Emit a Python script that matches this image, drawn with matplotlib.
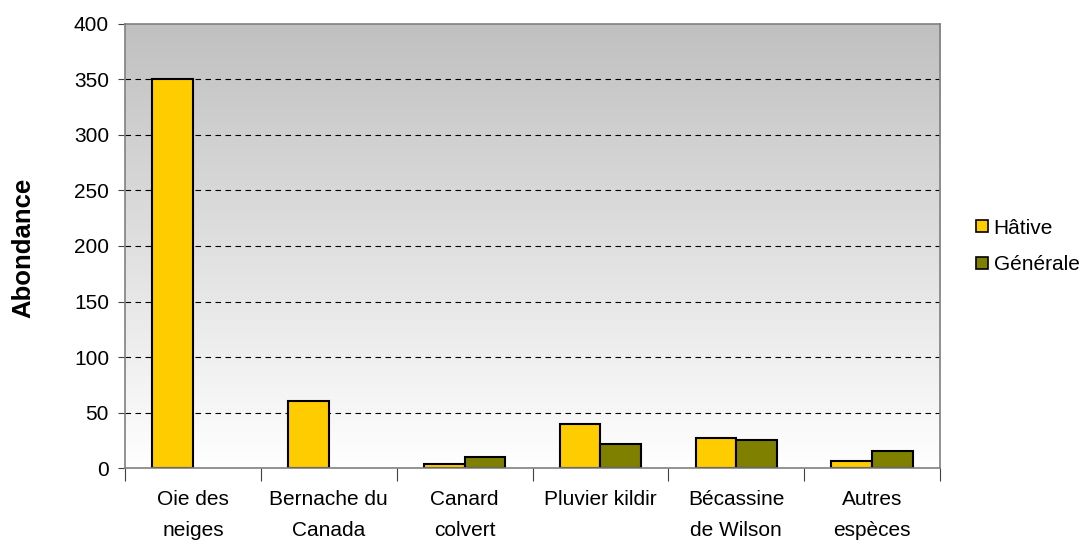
import numpy as np
import matplotlib
matplotlib.use("Agg")
import matplotlib.pyplot as plt
from matplotlib.lines import Line2D

plt.rcParams['font.family'] = ['Liberation Sans', 'DejaVu Sans']

categories = ["Oie des\nneiges", "Bernache du\nCanada", "Canard\ncolvert",
              "Pluvier kildir", "Bécassine\nde Wilson", "Autres\nespèces"]
hative = [350, 60, 4, 40, 27, 6]
generale = [0, 0, 10, 22, 25, 15]
series_names = ["Hâtive", "Générale"]
colors = ["#FFCC00", "#808000"]

fig = plt.figure(figsize=(10.83, 5.40), dpi=100)
ax = fig.add_axes([0.1154, 0.1333, 0.7526, 0.8223])

x = np.arange(len(categories))
w = 0.3
for off, vals, c in [(-w / 2, hative, colors[0]), (w / 2, generale, colors[1])]:
    bars = ax.bar(x + off, vals, w, color=c, edgecolor="black", linewidth=1.5, zorder=3)
    for b, v in zip(bars, vals):
        if v == 0:
            b.set_visible(False)

ax.set_xlim(-0.5, len(categories) - 0.5)
ax.set_ylim(0, 400)

# gradient background (grey at top -> white at bottom)
grad = np.linspace(1.0, 0.0, 256).reshape(-1, 1)
ax.imshow(grad, extent=[-0.5, len(categories) - 0.5, 0, 400], aspect="auto",
          cmap=matplotlib.colors.LinearSegmentedColormap.from_list("g", ["#FFFFFF", "#C0C0C0"]),
          zorder=0, origin="upper")

ax.set_yticks(range(0, 401, 50))
for yv in range(50, 400, 50):
    ax.axhline(yv, color="black", linestyle=(0, (5, 4)), linewidth=0.8, zorder=1)

ax.set_xticks(np.arange(-0.5, len(categories), 1.0))
ax.set_xticklabels([])
ax.set_xticks(x, minor=True)
ax.set_xticklabels(categories, minor=True, fontsize=15, linespacing=1.85)
ax.tick_params(axis="x", which="minor", length=0, pad=15.5)
ax.tick_params(axis="x", which="major", length=9, color="#404040")
ax.tick_params(axis="y", length=5, color="#404040", labelsize=15, pad=6.5)

for s in ax.spines.values():
    s.set_color("#808080")
    s.set_linewidth(1.2)
    s.set_zorder(4)

fig.text(23 / 1083, 0.5417, "Abondance", rotation=90, ha="center", va="center",
         fontsize=18.5, fontweight="bold")

handles = [Line2D([], [], marker="s", linestyle="none", markersize=8,
                  markerfacecolor=c, markeredgecolor="black", markeredgewidth=1.2)
           for c in colors]
fig.legend(handles, series_names, loc="center left", bbox_to_anchor=(0.882, 0.5435),
           frameon=False, fontsize=15, handletextpad=0.15, labelspacing=0.85,
           handlelength=0.8)

fig.savefig("out.png", dpi=100)
